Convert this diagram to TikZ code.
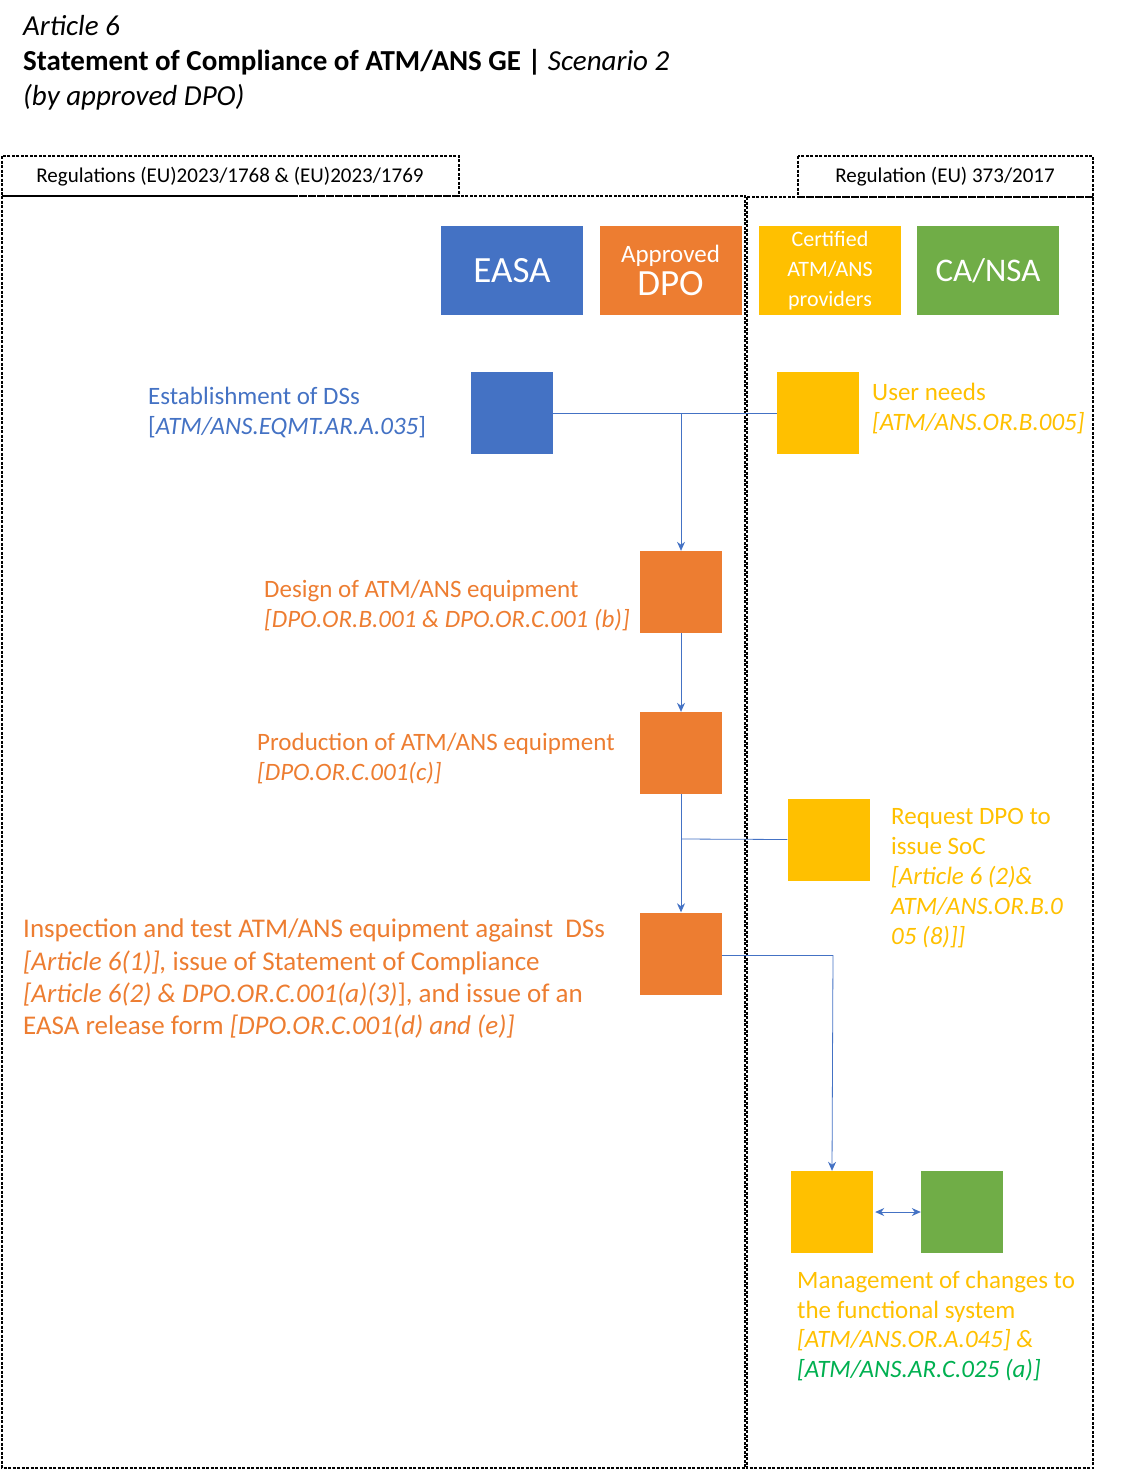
\documentclass[tikz,border=0pt]{standalone}
\usepackage{fontspec}
\setmainfont{Carlito}
\usetikzlibrary{arrows.meta}
\definecolor{cb}{HTML}{4472C4}
\definecolor{co}{HTML}{ED7D31}
\definecolor{cy}{HTML}{FFC000}
\definecolor{cg}{HTML}{70AD47}
\definecolor{cgt}{HTML}{00B050}
\begin{document}
\begin{tikzpicture}[x=1pt,y=-1pt,
  frame/.style={draw,line width=1.2pt,dash pattern=on 3pt off 1.5pt},
  sq/.style={draw=none,minimum width=82pt,minimum height=82pt,inner sep=0},
  hdr/.style={minimum width=142pt,minimum height=89pt,inner sep=0,text=white,align=center},
  t/.style={anchor=base west,inner sep=0,font=\fontsize{25}{29}\selectfont},
  conn/.style={draw=cb,line width=0.8pt},
  arr/.style={conn,-{Stealth[length=9pt,width=8pt]}}]
\useasboundingbox (0,0) rectangle (1121,1470);
% titles
\node[t,font=\fontsize{29}{34}\selectfont\itshape] (ti1) at (23,35) {Article 6};
\node[t,font=\fontsize{29}{34}\selectfont] (ti2) at (23,70) {\textbf{Statement of Compliance of ATM/ANS GE |} \textit{Scenario 2}};
\node[t,font=\fontsize{29}{34}\selectfont\itshape] (ti3) at (23,105) {(by approved DPO)};
% frames
\draw[frame] (2,156) rectangle (459,196);
\node[font=\fontsize{21}{24}\selectfont] (lreg) at (230,177) {Regulations (EU)2023/1768 \& (EU)2023/1769};
\draw[frame] (2,196) rectangle (745,1468);
\draw[frame] (798,156) rectangle (1093,197);
\node[font=\fontsize{21}{24}\selectfont] (rreg) at (945,177) {Regulation (EU) 373/2017};
\draw[frame] (747,197) rectangle (1093,1468);
% headers
\node[hdr,fill=cb,font=\fontsize{37}{40}\selectfont] (easa) at (512,270.5) {EASA};
\node[hdr,fill=co] (dpo) at (670.5,270.5) {{\fontsize{25}{28}\selectfont Approved}\\[4pt]{\fontsize{37}{36}\selectfont DPO}};
\node[hdr,fill=cy,font=\fontsize{22}{30}\selectfont] (cert) at (830,270.5) {Certified\\ATM/ANS\\providers};
\node[hdr,fill=cg,font=\fontsize{33}{36}\selectfont] (ca) at (988,270.5) {CA/NSA};
% squares
\node[sq,fill=cb] (b1) at (512,413) {};
\node[sq,fill=cy] (y1) at (818,413) {};
\node[sq,fill=co] (o1) at (681,592) {};
\node[sq,fill=co] (o2) at (681,753) {};
\node[sq,fill=cy] (y3) at (828.5,839.5) {};
\node[sq,fill=co] (o3) at (681,953.5) {};
\node[sq,fill=cy] (y4) at (832,1212) {};
\node[sq,fill=cg] (g4) at (962,1212) {};
\coordinate (j1) at (681,413);
\coordinate (j2) at (681,839);
\coordinate (j3) at (833,955);
% connectors
\draw[conn] (b1.east) -- (y1.west);
\draw[arr] (j1) -- (o1.north);
\draw[arr] (o1.south) -- (o2.north);
\draw[conn] (y3.west) -- (j2);
\draw[arr] (o2.south) -- (o3.north);
\draw[conn] (o3.east |- j3) -- (j3);
\draw[arr] (j3) -- (y4.north);
\draw[conn,{Stealth[length=9pt,width=8pt]}-{Stealth[length=9pt,width=8pt]}] ([xshift=2pt]y4.east) -- (g4.west);
% texts
\node[t,text=cb] (l1a) at (148,404) {Establishment of DSs};
\node[t,text=cb] (l1b) at (148,434) {[\textit{ATM/ANS.EQMT.AR.A.035}]};
\node[t,text=cy] (r1a) at (872,400) {User needs};
\node[t,text=cy] (r1b) at (872,430) {\textit{[ATM/ANS.OR.B.005]}};
\node[t,text=co] (l2a) at (264,597) {Design of ATM/ANS equipment};
\node[t,text=co] (l2b) at (264,627) {\textit{[DPO.OR.B.001 \& DPO.OR.C.001 (b)]}};
\node[t,text=co] (l3a) at (257,750) {Production of ATM/ANS equipment};
\node[t,text=co] (l3b) at (257,780) {\textit{[DPO.OR.C.001(c)]}};
\node[t,text=cy] (r3a) at (891,824) {Request DPO to};
\node[t,text=cy] (r3b) at (891,854) {issue SoC};
\node[t,text=cy] (r3c) at (891,884) {\textit{[Article 6 (2)\&}};
\node[t,text=cy] (r3d) at (891,914) {\textit{ATM/ANS.OR.B.0}};
\node[t,text=cy] (r3e) at (891,944) {\textit{05 (8)]]}};
\node[t,text=co,font=\fontsize{27}{31}\selectfont] (l4a) at (23,937) {Inspection and test ATM/ANS equipment against\ \ DSs};
\node[t,text=co,font=\fontsize{27}{31}\selectfont] (l4b) at (23,970) {\textit{[Article 6(1)],} issue of Statement of Compliance};
\node[t,text=co,font=\fontsize{27}{31}\selectfont] (l4c) at (23,1002) {\textit{[Article 6(2) \& DPO.OR.C.001(a)(3)}], and issue of an};
\node[t,text=co,font=\fontsize{27}{31}\selectfont] (l4d) at (23,1034) {EASA release form \textit{[DPO.OR.C.001(d) and (e)]}};
\node[t,text=cy] (m1) at (797,1288) {Management of changes to};
\node[t,text=cy] (m2) at (797,1318) {the functional system};
\node[t,text=cy] (m3) at (797,1347) {\textit{[ATM/ANS.OR.A.045] \&}};
\node[t,text=cgt] (m4) at (797,1377) {\textit{[ATM/ANS.AR.C.025 (a)]}};
\end{tikzpicture}
\end{document}
